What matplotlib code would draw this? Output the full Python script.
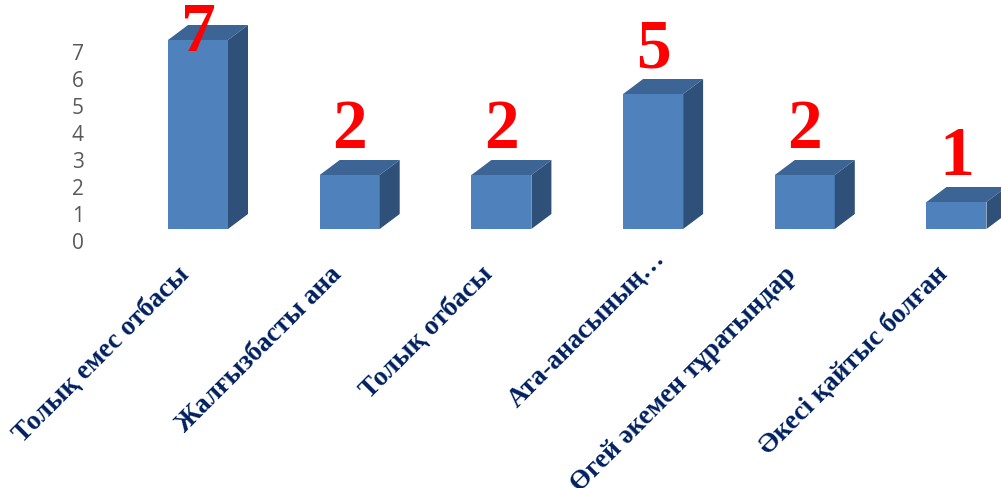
import matplotlib
matplotlib.use("Agg")
import matplotlib.pyplot as plt
from matplotlib.patches import Rectangle, Polygon

categories = ["Толық емес отбасы", "Жалғызбасты ана", "Толық отбасы",
              "Ата-анасының…", "Өгей әкемен тұратындар", "Әкесі қайтыс болған"]
values = [7, 2, 2, 5, 2, 1]
heights = [7, 2, 2, 5, 2, 1]
y_ticks = [0, 1, 2, 3, 4, 5, 6, 7]

W, H = 1001, 488
fig = plt.figure(figsize=(W / 100, H / 100), dpi=100)
ax = fig.add_axes([0, 0, 1, 1])
px_x = 151.7   # pixels per category
px_y = 27.0    # pixels per unit
x0, y0 = 198.0, 229.0
ax.set_xlim(-x0 / px_x, (W - x0) / px_x)
ax.set_ylim((y0 - H) / px_y, y0 / px_y)
ax.axis("off")

bw = 60 / px_x
dx = 20 / px_x
dy = 15 / px_y
front, top, side = "#4F81BD", "#3C6596", "#2F5179"
label_ceiling = 6.05  # labels of tall bars stay inside the picture

for i, (h, v, c) in enumerate(zip(heights, values, categories)):
    l, r = i - bw / 2, i + bw / 2
    ax.add_patch(Rectangle((l, 0), bw, h, fc=front, ec="none", clip_on=False))
    ax.add_patch(Polygon([(l, h), (r, h), (r + dx, h + dy), (l + dx, h + dy)],
                         fc=top, ec="none"))
    ax.add_patch(Polygon([(r, 0), (r + dx, dy), (r + dx, h + dy), (r, h)],
                         fc=side, ec="none"))
    ax.text(i, min(h + dy - 0.12, label_ceiling), str(v), color="#FF0000", fontsize=50,
            fontweight="bold", family="Liberation Serif", ha="center", va="bottom",
            clip_on=False, zorder=5)
    # the truncated label sits further along its slant than the others
    offset = (-1, -17) if c.endswith("…") else (-21, -33)
    ax.annotate(c, xy=(i, 0), xytext=offset, textcoords="offset pixels",
                rotation=45, rotation_mode="anchor", ha="right", va="top",
                color="#002060", fontsize=19.5, fontweight="bold", family="Liberation Serif")

for t in y_ticks:
    ax.annotate(str(t), xy=(ax.get_xlim()[0], t), xytext=(78, -12),
                textcoords="offset pixels", ha="center", va="center_baseline",
                color="#595959", fontsize=15, family="Open Sans")

fig.savefig("out.png", dpi=100)
